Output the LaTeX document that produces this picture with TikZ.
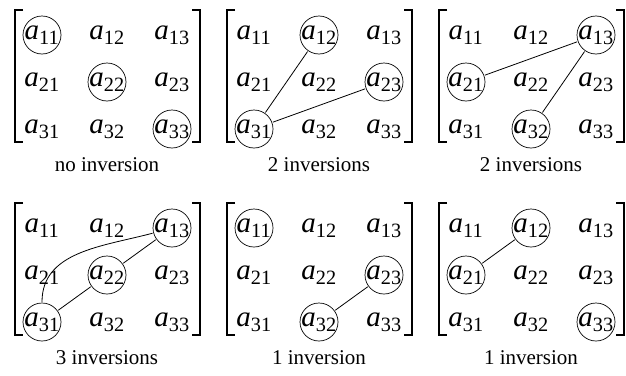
\documentclass[tikz,border=0pt]{standalone}
\usepackage{fontspec}
\setmainfont{Liberation Serif}
\tikzset{
  entry/.style={circle, minimum size=38pt, inner sep=0pt, font=\fontsize{29}{32}\selectfont},
  ring/.style={entry, draw, line width=0.7pt},
  link/.style={line width=0.8pt},
  bracket/.style={line width=1.3pt},
  caption/.style={font=\fontsize{21}{24}\selectfont}
}
\newcommand\elem[2]{\textit{a}\textsubscript{#1#2}}
% one bracketed 3x3 matrix: name, left x, top row y, caption
\newcommand\mymatrix[4]{
  \foreach \i in {1,2,3}
    \foreach \j in {1,2,3}
      \node[entry] (#1-\i\j) at ({#2+27+65*(\j-1)},{#3+47*(\i-1)}) {\elem{\i}{\j}};
  \draw[bracket] ({#2+8},{#3-25}) -- ({#2},{#3-25}) -- ({#2},{#3+107}) -- ({#2+8},{#3+107});
  \draw[bracket] ({#2+177},{#3-25}) -- ({#2+185},{#3-25}) -- ({#2+185},{#3+107}) -- ({#2+177},{#3+107});
  \node[caption] (#1-cap) at ({#2+92},{#3+130}) {#4};
}
\begin{document}
\begin{tikzpicture}[x=1pt, y=-1pt]
  \useasboundingbox (0,0) rectangle (626,375);

  \mymatrix{ma}{15}{35}{no inversion}
  \mymatrix{mb}{227}{35}{2 inversions}
  \mymatrix{mc}{439}{35}{2 inversions}
  \mymatrix{md}{15}{228}{3 inversions}
  \mymatrix{me}{227}{228}{1 inversion}
  \mymatrix{mf}{439}{228}{1 inversion}

  % circled entries
  \foreach \e in {11,22,33} \node[ring] at (ma-\e) {};
  \foreach \e in {12,23,31} \node[ring] at (mb-\e) {};
  \foreach \e in {13,21,32} \node[ring] at (mc-\e) {};
  \foreach \e in {13,22,31} \node[ring] at (md-\e) {};
  \foreach \e in {11,23,32} \node[ring] at (me-\e) {};
  \foreach \e in {12,21,33} \node[ring] at (mf-\e) {};

  % inversions
  \draw[link] (mb-12) -- (mb-31);
  \draw[link] (mb-23) -- (mb-31);
  \draw[link] (mc-13) -- (mc-21);
  \draw[link] (mc-13) -- (mc-32);
  \draw[link] (md-13) -- (md-22);
  \draw[link] (md-22) -- (md-31);
  \draw[link] (md-31) to[out=90, in=195] (md-13);
  \draw[link] (me-23) -- (me-32);
  \draw[link] (mf-12) -- (mf-21);
\end{tikzpicture}
\end{document}
